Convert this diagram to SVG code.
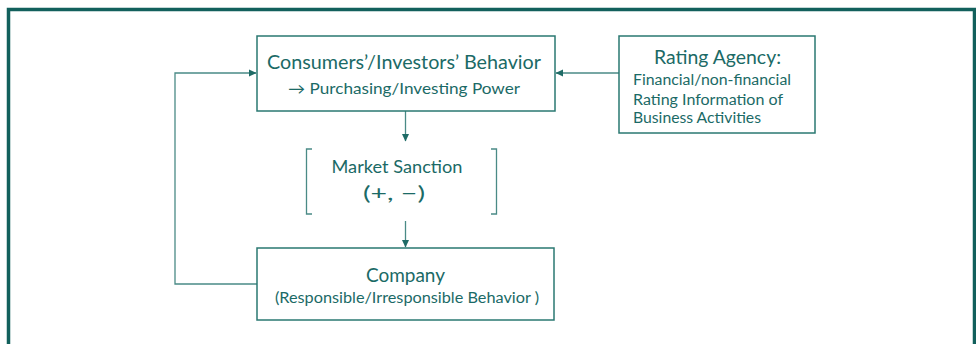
<svg xmlns="http://www.w3.org/2000/svg" width="976" height="344" viewBox="0 0 976 344">
<defs>
<style>
.box{fill:#fff;stroke:#2a7872;stroke-width:1.5}
.ln{fill:none;stroke:#4a8a86;stroke-width:1.3}
text{font-family:Lato,"Open Sans","Liberation Sans",sans-serif;fill:#1b6a66}
.t1{font-size:19.5px;text-anchor:middle}
.t2{font-size:15px;text-anchor:middle}
.t3{font-size:15.5px}
</style>
<marker id="ah" markerWidth="8" markerHeight="8" refX="7" refY="4" orient="auto" markerUnits="userSpaceOnUse">
<path d="M0,0.5 L7.5,4 L0,7.5 Z" fill="#1f6b66"/>
</marker>
</defs>
<rect width="976" height="344" fill="#fff"/>
<path d="M8.5,350 V9.5 H974.5 V350" fill="none" stroke="#12605c" stroke-width="3.5"/>
<g id="connectors">
<path class="ln" d="M619,73 H556" marker-end="url(#ah)"/>
<path class="ln" d="M257,284 H175 V73 H256" marker-end="url(#ah)"/>
<path class="ln" d="M405.5,111 V141" marker-end="url(#ah)"/>
<path class="ln" d="M405.5,221 V247" marker-end="url(#ah)"/>
</g>
<g id="consumers">
<rect class="box" x="257" y="36" width="298" height="75"/>
<text class="t1" x="404" y="69" textLength="274" lengthAdjust="spacingAndGlyphs">Consumers’/Investors’ Behavior</text>
<text class="t2" x="404" y="94" textLength="232" lengthAdjust="spacingAndGlyphs">→ Purchasing/Investing Power</text>
</g>
<g id="rating">
<rect class="box" x="619" y="36" width="196" height="97"/>
<text class="t1" x="717.5" y="63.5" textLength="127" lengthAdjust="spacingAndGlyphs">Rating Agency:</text>
<text class="t3" x="633" y="85" textLength="158" lengthAdjust="spacingAndGlyphs">Financial/non-financial</text>
<text class="t3" x="633" y="105" textLength="150" lengthAdjust="spacingAndGlyphs">Rating Information of</text>
<text class="t3" x="633" y="122.5" textLength="128" lengthAdjust="spacingAndGlyphs">Business Activities</text>
</g>
<g id="sanction">
<path class="ln" d="M312,149 H306.5 V214 H312 M491,149 H496.5 V214 H491"/>
<text class="t1" x="397" y="172.5" style="font-size:17.5px" textLength="131" lengthAdjust="spacingAndGlyphs">Market Sanction</text>
<text class="t1" x="394" y="200" style="font-size:20px" textLength="62" lengthAdjust="spacingAndGlyphs">(+, −)</text>
</g>
<g id="company">
<rect class="box" x="257" y="248" width="297" height="72"/>
<text class="t1" x="405.5" y="281.5" style="font-size:18.5px" textLength="79" lengthAdjust="spacingAndGlyphs">Company</text>
<text class="t2" x="407" y="303" style="font-size:15.5px" textLength="264" lengthAdjust="spacingAndGlyphs">(Responsible/Irresponsible  Behavior )</text>
</g>
</svg>
